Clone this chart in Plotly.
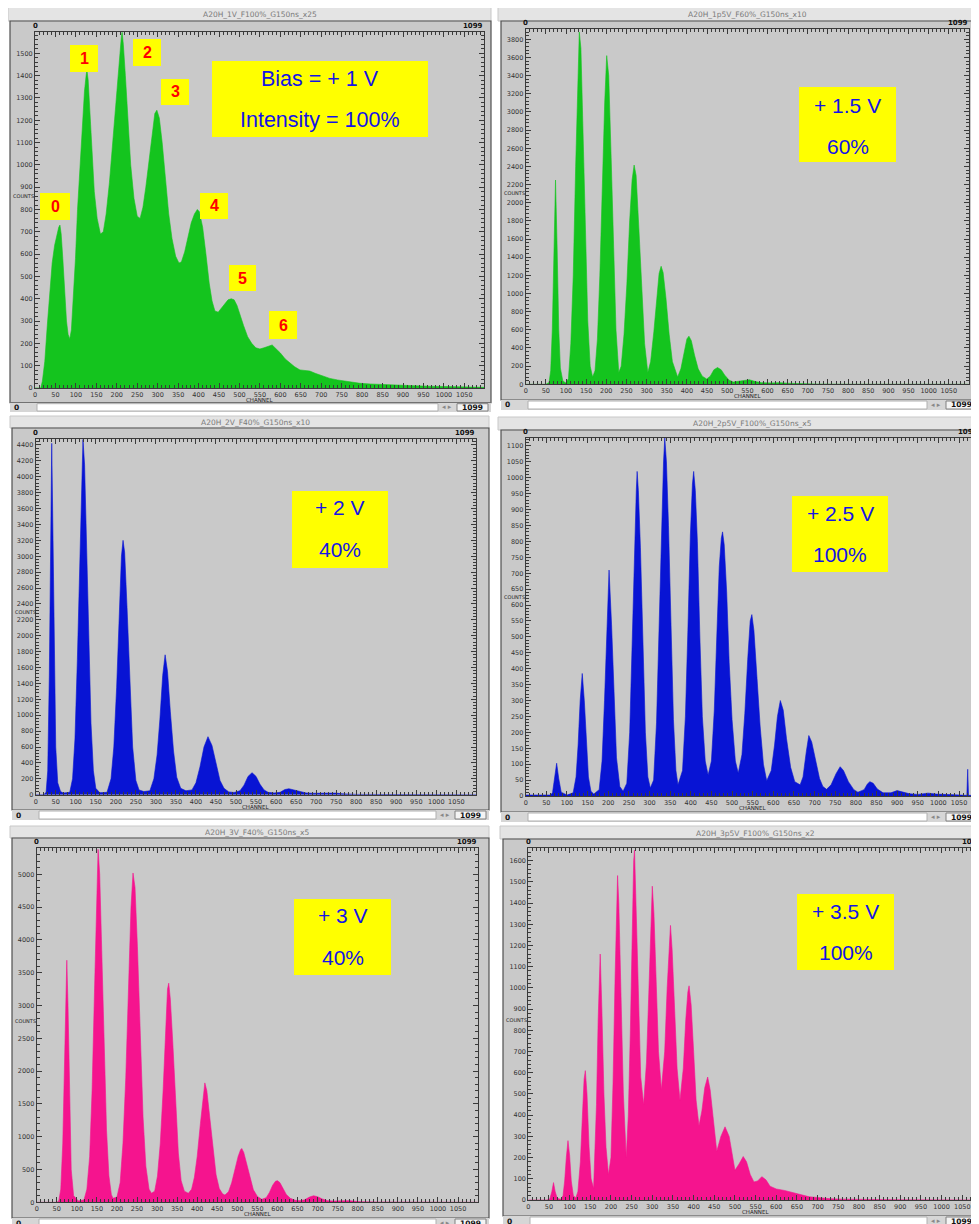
import plotly.graph_objects as go

W, H = 979, 1224
OFF = 8  # the page body margin shifts the figure by 8 px
FW, FH = W - OFF, H - OFF

# ---------------- data (channel, counts) ----------------
ch_1v = [0, 14, 18, 24, 30, 36, 42, 48, 54, 58, 61, 64, 68, 72, 77, 81, 85, 89, 94, 99, 104, 110, 116, 121, 125, 127, 130, 134, 139, 145, 152, 160, 167, 174, 182, 190, 197, 203, 208, 211, 213, 216, 221, 227, 234, 242, 250, 257, 264, 271, 279, 287, 293, 298, 304, 311, 319, 327, 335, 344, 352, 358, 366, 374, 382, 390, 397, 402, 410, 418, 426, 433, 440, 448, 456, 464, 472, 480, 487, 494, 502, 510, 520, 530, 540, 550, 560, 570, 580, 590, 600, 612, 623, 635, 648, 660, 672, 685, 697, 710, 721, 740, 758, 777, 795, 820, 843, 870, 892, 930, 966, 1000, 1050, 1099]
cnt_1v = [0, 0, 30, 120, 280, 430, 560, 640, 690, 720, 730, 690, 580, 440, 300, 240, 220, 260, 400, 580, 800, 1000, 1200, 1330, 1400, 1425, 1380, 1250, 1050, 880, 760, 690, 700, 780, 920, 1100, 1270, 1420, 1520, 1570, 1595, 1540, 1400, 1200, 1000, 850, 770, 760, 810, 900, 1030, 1160, 1230, 1245, 1210, 1100, 930, 780, 670, 590, 560, 565, 610, 680, 740, 780, 800, 790, 720, 600, 470, 390, 345, 340, 360, 380, 395, 400, 395, 370, 320, 280, 230, 200, 180, 175, 180, 185, 193, 175, 157, 130, 112, 95, 81, 78, 76, 66, 58, 50, 43, 36, 31, 26, 21, 18, 16, 13, 12, 10, 8, 6, 4, 3]

ch_1p5v = [0, 50, 58, 62, 66, 70, 74, 78, 82, 86, 92, 99, 106, 112, 118, 124, 129, 133, 137, 142, 148, 154, 160, 166, 172, 178, 184, 190, 196, 201, 206, 212, 218, 224, 231, 237, 244, 251, 258, 264, 269, 274, 281, 288, 295, 303, 310, 318, 325, 331, 336, 341, 348, 356, 364, 377, 385, 393, 400, 405, 411, 419, 428, 438, 449, 458, 467, 476, 485, 494, 505, 515, 530, 545, 555, 570, 585, 610, 630, 650, 680, 720, 800, 1099]
cnt_1p5v = [0, 0, 20, 150, 600, 1500, 2250, 1500, 600, 180, 40, 15, 60, 450, 1200, 2400, 3400, 3880, 3700, 2900, 1700, 700, 200, 80, 150, 500, 1200, 2200, 3100, 3620, 3400, 2500, 1400, 600, 130, 200, 550, 1100, 1800, 2250, 2415, 2300, 1700, 1000, 450, 130, 250, 580, 950, 1220, 1300, 1230, 950, 550, 250, 80, 170, 350, 500, 530, 480, 320, 170, 90, 58, 90, 160, 185, 160, 100, 45, 25, 35, 50, 50, 30, 18, 15, 18, 12, 5, 3, 1, 0]

ch_2v = [0, 20, 26, 30, 34, 37, 40, 43, 46, 50, 55, 62, 69, 85, 92, 98, 104, 110, 115, 118, 122, 127, 132, 138, 144, 150, 160, 178, 188, 195, 202, 208, 214, 218, 222, 228, 235, 242, 250, 258, 270, 285, 295, 303, 310, 317, 323, 329, 336, 344, 352, 362, 375, 390, 400, 410, 420, 430, 440, 450, 460, 470, 482, 495, 510, 520, 530, 540, 550, 560, 570, 580, 595, 610, 622, 632, 645, 660, 675, 690, 710, 730, 750, 765, 780, 800, 900, 1099]
cnt_2v = [0, 0, 30, 300, 1500, 3000, 4420, 3300, 1800, 600, 150, 40, 20, 30, 200, 700, 1700, 3000, 4100, 4470, 4150, 3200, 2000, 900, 300, 80, 25, 30, 200, 600, 1350, 2300, 3000, 3200, 3050, 2350, 1350, 600, 180, 60, 40, 50, 200, 500, 950, 1500, 1760, 1550, 1050, 550, 220, 80, 50, 60, 150, 350, 600, 730, 620, 380, 180, 80, 35, 28, 50, 120, 230, 277, 230, 130, 60, 30, 22, 30, 65, 75, 60, 35, 22, 18, 20, 22, 20, 12, 5, 4, 2, 0]

ch_2p5v = [0, 60, 65, 70, 75, 80, 86, 100, 115, 122, 127, 132, 137, 142, 147, 152, 158, 165, 178, 185, 191, 196, 202, 208, 214, 220, 228, 236, 245, 252, 258, 264, 268, 270, 273, 278, 284, 290, 296, 302, 310, 317, 323, 329, 334, 337, 341, 346, 352, 358, 364, 369, 380, 387, 393, 399, 404, 407, 411, 416, 422, 428, 435, 442, 450, 457, 463, 469, 474, 477, 481, 487, 493, 500, 508, 515, 524, 531, 538, 544, 548, 553, 560, 568, 576, 584, 595, 603, 610, 617, 624, 632, 642, 652, 665, 672, 680, 686, 693, 702, 712, 720, 729, 740, 752, 762, 770, 782, 795, 805, 820, 828, 834, 842, 852, 866, 885, 900, 915, 930, 950, 975, 995, 1020, 1060, 1069, 1071, 1073, 1099]
cnt_2p5v = [3, 3, 10, 50, 103, 55, 12, 3, 10, 60, 160, 300, 385, 300, 160, 60, 15, 6, 20, 110, 300, 520, 710, 540, 300, 120, 30, 15, 40, 200, 480, 800, 960, 1020, 960, 780, 480, 200, 60, 25, 50, 230, 520, 850, 1050, 1125, 1050, 850, 520, 240, 80, 35, 80, 250, 520, 820, 980, 1020, 960, 800, 500, 250, 110, 66, 110, 270, 500, 720, 810, 830, 790, 640, 420, 240, 110, 72, 130, 260, 430, 550, 570, 520, 380, 220, 100, 48, 80, 160, 250, 300, 270, 180, 90, 45, 35, 60, 140, 190, 170, 110, 55, 30, 21, 35, 70, 92, 80, 45, 20, 12, 20, 38, 45, 40, 22, 10, 10, 17, 12, 7, 5, 9, 6, 4, 3, 2, 84, 2, 2]

ch_3v = [0, 50, 55, 60, 65, 70, 73, 75, 78, 82, 86, 92, 104, 118, 125, 132, 138, 144, 149, 153, 157, 162, 168, 174, 180, 186, 190, 200, 208, 215, 222, 229, 235, 240, 245, 251, 258, 265, 272, 280, 286, 294, 301, 308, 315, 321, 326, 329, 333, 339, 346, 353, 360, 368, 378, 386, 393, 400, 408, 414, 419, 424, 431, 439, 447, 455, 463, 469, 478, 486, 494, 502, 508, 511, 516, 523, 531, 540, 550, 561, 572, 580, 588, 595, 600, 606, 614, 622, 632, 645, 656, 668, 680, 690, 700, 712, 725, 740, 760, 780, 795, 810, 850, 900, 1000, 1099]
cnt_3v = [0, 0, 20, 200, 900, 2400, 3300, 3690, 3000, 1500, 500, 100, 20, 40, 200, 700, 1700, 3200, 4600, 5380, 5000, 3900, 2400, 1100, 400, 120, 60, 80, 300, 900, 1900, 3300, 4500, 5020, 4800, 3900, 2500, 1300, 550, 200, 137, 170, 400, 900, 1700, 2700, 3250, 3340, 3100, 2450, 1500, 750, 330, 170, 137, 200, 380, 700, 1200, 1600, 1820, 1700, 1300, 800, 420, 210, 130, 110, 160, 300, 500, 700, 800, 820, 760, 600, 380, 190, 90, 45, 70, 150, 260, 320, 330, 300, 210, 120, 60, 30, 25, 40, 80, 100, 85, 50, 25, 18, 22, 25, 15, 8, 5, 3, 1, 0]

ch_3p5v = [0, 45, 52, 57, 61, 65, 70, 78, 84, 88, 92, 96, 100, 104, 109, 115, 120, 126, 131, 135, 138, 142, 147, 152, 158, 160, 165, 169, 172, 174, 178, 183, 188, 194, 200, 205, 210, 214, 216, 219, 224, 230, 237, 242, 247, 251, 255, 257, 261, 266, 272, 279, 286, 292, 297, 300, 304, 309, 315, 322, 330, 336, 341, 344, 348, 354, 360, 367, 375, 381, 386, 389, 394, 400, 406, 413, 420, 427, 434, 440, 447, 456, 466, 476, 486, 494, 500, 510, 520, 528, 537, 546, 555, 565, 575, 585, 600, 620, 640, 660, 680, 700, 730, 760, 800, 900, 1099]
cnt_3p5v = [0, 0, 5, 40, 82, 40, 8, 3, 20, 90, 200, 280, 210, 90, 20, 10, 40, 180, 400, 570, 610, 500, 250, 100, 55, 150, 450, 850, 1100, 1160, 900, 500, 250, 120, 200, 550, 1050, 1420, 1530, 1400, 950, 500, 200, 400, 800, 1250, 1600, 1650, 1350, 900, 580, 450, 650, 1000, 1350, 1480, 1350, 1000, 700, 520, 700, 1000, 1230, 1295, 1180, 900, 620, 470, 620, 850, 980, 1010, 920, 700, 470, 350, 420, 530, 580, 520, 380, 230, 300, 345, 300, 200, 140, 170, 205, 180, 120, 85, 90, 110, 95, 65, 52, 45, 35, 25, 15, 12, 6, 4, 3, 1, 0]

titles = ["A20H_1V_F100%_G150ns_x25", "A20H_1p5V_F60%_G150ns_x10",
          "A20H_2V_F40%_G150ns_x10", "A20H_2p5V_F100%_G150ns_x5",
          "A20H_3V_F40%_G150ns_x5", "A20H_3p5V_F100%_G150ns_x2"]
box_line1 = ["Bias = + 1 V", "+ 1.5 V", "+ 2 V", "+ 2.5 V", "+ 3 V", "+ 3.5 V"]
box_line2 = ["Intensity = 100%", "60%", "40%", "100%", "40%", "100%"]
peak_labels = ["0", "1", "2", "3", "4", "5", "6"]
x_tick_step = 50
y_tick_steps = [100, 200, 200, 50, 500, 100]

GREEN = "#14c41e"
BLUE = "#0814d4"
PINK = "#f5148e"

series = [(ch_1v, cnt_1v, GREEN), (ch_1p5v, cnt_1p5v, GREEN),
          (ch_2v, cnt_2v, BLUE), (ch_2p5v, cnt_2p5v, BLUE),
          (ch_3v, cnt_3v, PINK), (ch_3p5v, cnt_3p5v, PINK)]

# ---------------- layout geometry (pixels in the 979x1224 picture) ----------------
geo = [
    dict(ax=(35, 484.4), ay=(388, 32.3), xr=1099, yr=1594, counts_y=196,
         frame=(10, 491, 21, 402.7), tbar=(8, 491, 7, 21), sbar=(402.7, 412), fr=490),
    dict(ax=(525.7, 968.6), ay=(384.3, 29.3), xr=1099, yr=3910, counts_y=193,
         frame=(501, 985, 21, 400), tbar=(498, 985, 7, 21), sbar=(400, 410), fr=979),
    dict(ax=(35.7, 476), ay=(794.7, 439.3), xr=1099, yr=4471, counts_y=612,
         frame=(12, 489, 428, 810), tbar=(10, 489, 416, 428), sbar=(810, 820), fr=488),
    dict(ax=(525.7, 979), ay=(796, 438), xr=1098.4, yr=1125, counts_y=597,
         frame=(501, 985, 430, 812), tbar=(498, 985, 417, 430), sbar=(812, 822), fr=979),
    dict(ax=(36.7, 477.7), ay=(1202.3, 848), xr=1099, yr=5401, counts_y=1021,
         frame=(12, 489, 838, 1218), tbar=(10, 489, 826, 838), sbar=(1218, 1228), fr=488),
    dict(ax=(528.3, 979), ay=(1200, 848), xr=1090.5, yr=1660, counts_y=1020,
         frame=(503, 985, 839, 1216), tbar=(500, 985, 826, 839), sbar=(1216, 1226), fr=979),
]

boxes = [
    dict(r=(212, 428, 61, 137), t1=79, t2=120, size=21.5),
    dict(r=(799, 896, 87, 162), t1=105, t2=146, size=21),
    dict(r=(292, 388, 491, 568), t1=507, t2=549, size=21),
    dict(r=(792, 888, 496, 572), t1=513, t2=554, size=21),
    dict(r=(294, 391, 899, 975), t1=915, t2=957, size=21),
    dict(r=(797, 894, 894, 970), t1=911, t2=952, size=21),
]

num_boxes = [(40, 70, 193, 220), (70, 98, 45, 72), (133, 161, 39, 66), (161, 189, 79, 105),
             (200, 228, 193, 219), (229, 256, 265, 291), (269, 297, 311, 339)]


def X(p):
    return (p - OFF) / FW


def Y(p):
    return 1 - (p - OFF) / FH


def note(x, y, text, size, color, family="DejaVu Sans", xanchor="center"):
    return dict(x=X(x), y=Y(y), xref="paper", yref="paper", text=text, showarrow=False,
                xanchor=xanchor, yanchor="middle", font=dict(family=family, size=size, color=color))


fig = go.Figure()
shapes = []
ann = []

FONT = "DejaVu Sans"

for i, (g, (chs, cnts, col)) in enumerate(zip(geo, series)):
    n = i + 1
    xa = "x" if n == 1 else f"x{n}"
    ya = "y" if n == 1 else f"y{n}"
    fig.add_trace(go.Scatter(x=chs, y=cnts, mode="lines", fill="tozeroy",
                             line=dict(color=col, width=0.6), fillcolor=col,
                             xaxis=xa, yaxis=ya, showlegend=False, hoverinfo="skip"))
    x0, x1 = g["ax"]
    yb, yt = g["ay"]
    axis_common = dict(showgrid=False, zeroline=False, ticks="inside", mirror="ticks",
                       showline=True, linecolor="#3a3a3a", linewidth=1, tickcolor="#3a3a3a",
                       automargin=False, tickfont=dict(family=FONT, size=6.5, color="#333"))
    fig.layout[f"xaxis{'' if n == 1 else n}"] = dict(
        domain=[max(0.0, X(x0)), min(1.0, X(x1))], range=[0, g["xr"]], anchor=ya,
        tickmode="linear", tick0=0, dtick=x_tick_step, ticklen=5,
        minor=dict(dtick=10, ticklen=3, ticks="inside", tickcolor="#3a3a3a"),
        **axis_common)
    fig.layout[f"yaxis{'' if n == 1 else n}"] = dict(
        domain=[Y(yb), Y(yt)], range=[0, g["yr"]], anchor=xa,
        tickmode="linear", tick0=0, dtick=y_tick_steps[i], ticklen=5,
        minor=dict(dtick=y_tick_steps[i] / 5, ticklen=3, ticks="inside", tickcolor="#3a3a3a"),
        **axis_common)

    x_end = x0 + 1099 * (x1 - x0) / g["xr"]

    # window title bar
    tx0, tx1, ty0, ty1 = g["tbar"]
    shapes.append(dict(type="rect", xref="paper", yref="paper", x0=X(tx0), x1=X(tx1),
                       y0=Y(ty1), y1=Y(ty0), fillcolor="#e4e4e4", line=dict(color="#c8c8c8", width=1),
                       layer="below"))
    ann.append(note((x0 + x_end) / 2, (ty0 + ty1) / 2 + 0.5, titles[i], 7.5, "#7a7a7a"))
    # frame
    fx0, fx1, fy0, fy1 = g["frame"]
    shapes.append(dict(type="rect", xref="paper", yref="paper", x0=X(fx0), x1=X(fx1),
                       y0=Y(fy1), y1=Y(fy0), fillcolor="#c9c9c9", line=dict(color="#505050", width=1.2),
                       layer="below"))
    # scroll bar
    sy0, sy1 = g["sbar"]
    fr = g["fr"]
    sc = (sy0 + sy1) / 2
    shapes.append(dict(type="rect", xref="paper", yref="paper", x0=X(fx0), x1=X(fx1),
                       y0=Y(sy1), y1=Y(sy0), fillcolor="#d6d6d6", line=dict(width=0), layer="below"))
    shapes.append(dict(type="rect", xref="paper", yref="paper", x0=X(fx0 + 27), x1=X(fr - 52),
                       y0=Y(sy1 - 1), y1=Y(sy0 + 1), fillcolor="#ffffff", line=dict(color="#b0b0b0", width=1), layer="below"))
    shapes.append(dict(type="rect", xref="paper", yref="paper", x0=X(fr - 33), x1=X(fr - 2),
                       y0=Y(sy1 - 1), y1=Y(sy0 + 1), fillcolor="#f4f4f4", line=dict(color="#808080", width=1), layer="below"))
    ann.append(note(fx0 + 2, sc, "<b>0</b>", 7.5, "#111", xanchor="left"))
    ann.append(note(fr - 43, sc, "◂ ▸", 7, "#888"))
    ann.append(note(fr - 17.5, sc, "<b>1099</b>", 7.5, "#111"))
    # top 0 / 1099 labels
    ann.append(note(x0, yt - 6, "<b>0</b>", 7, "#111"))
    ann.append(note(x_end + 1, yt - 6, "<b>1099</b>", 7, "#111", xanchor="right"))
    # axis titles
    ann.append(note((x0 + x_end) / 2, yb + 12, "CHANNEL", 5.5, "#222"))
    ann.append(note(fx0 + 1, g["counts_y"], "COUNTS", 5, "#222", xanchor="left"))

    # yellow text box
    b = boxes[i]
    bx0, bx1, by0, by1 = b["r"]
    shapes.append(dict(type="rect", xref="paper", yref="paper", x0=X(bx0), x1=X(bx1),
                       y0=Y(by1), y1=Y(by0), fillcolor="#ffff00", line=dict(width=0), layer="above"))
    for line, yy in ((box_line1[i], b["t1"]), (box_line2[i], b["t2"])):
        ann.append(note((bx0 + bx1) / 2, yy, line, b["size"], "#1414e6", family="Liberation Sans"))

# peak number labels on first panel
for lab, (bx0, bx1, by0, by1) in zip(peak_labels, num_boxes):
    shapes.append(dict(type="rect", xref="paper", yref="paper", x0=X(bx0), x1=X(bx1),
                       y0=Y(by1), y1=Y(by0), fillcolor="#ffff00", line=dict(width=0), layer="above"))
    ann.append(note((bx0 + bx1) / 2, (by0 + by1) / 2, f"<b>{lab}</b>", 16, "#ff0000",
                    family="Liberation Sans"))

fig.update_layout(width=FW, height=FH, margin=dict(l=0, r=0, t=0, b=0, autoexpand=False),
                  paper_bgcolor="#ffffff", plot_bgcolor="rgba(0,0,0,0)",
                  shapes=shapes, annotations=ann, showlegend=False)

fig.write_html("out.html")
